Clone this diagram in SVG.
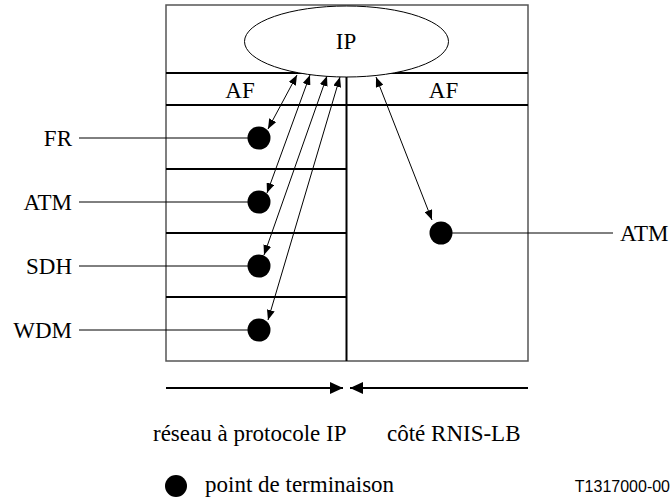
<svg xmlns="http://www.w3.org/2000/svg" width="672" height="504" viewBox="0 0 672 504">
  <style>
    .t { font-family: "Liberation Serif", "Times New Roman", serif; font-size: 23px; fill: #000; }
    .thin { stroke: #000; stroke-width: 1; fill: none; }
    .thick { stroke: #000; stroke-width: 2; fill: none; }
    .frame { stroke: #555; stroke-width: 1.5; fill: none; }
    .dot { fill: #000; }
    .link { stroke: #000; stroke-width: 1; fill: none; marker-start: url(#ah); marker-end: url(#ah); }
  </style>
  <defs>
    <marker id="ah" viewBox="0 0 10 8" refX="10" refY="4" markerWidth="10" markerHeight="8" markerUnits="userSpaceOnUse" orient="auto-start-reverse">
      <path d="M0,0 L10,4 L0,8 Z" fill="#000"/>
    </marker>
    <marker id="bh" viewBox="0 0 13 12" refX="13" refY="6" markerWidth="13" markerHeight="12" markerUnits="userSpaceOnUse" orient="auto">
      <path d="M0,0 L13,6 L0,12 Z" fill="#000"/>
    </marker>
  </defs>

  <!-- frame and layer divisions -->
  <g id="frame">
    <rect class="frame" x="166" y="5" width="362" height="356"/>
    <line class="thick" x1="166" y1="73" x2="528" y2="73"/>
    <line class="thick" x1="166" y1="105" x2="528" y2="105"/>
    <line class="thick" x1="166" y1="169" x2="346.5" y2="169"/>
    <line class="thick" x1="166" y1="233" x2="346.5" y2="233"/>
    <line class="thick" x1="166" y1="297" x2="346.5" y2="297"/>
    <line class="thick" x1="346.5" y1="73" x2="346.5" y2="361"/>
  </g>

  <g id="ip">
    <ellipse cx="346.5" cy="41.5" rx="102" ry="35.5" fill="#fff" stroke="#000" stroke-width="1"/>
    <text class="t" x="346" y="49" text-anchor="middle">IP</text>
  </g>

  <g id="af-left"><text class="t" x="240" y="98" text-anchor="middle">AF</text></g>
  <g id="af-right"><text class="t" x="443.5" y="98" text-anchor="middle">AF</text></g>

  <!-- termination points with their interface labels -->
  <g id="fr">
    <text class="t" x="72" y="145.5" text-anchor="end">FR</text>
    <line class="thin" x1="79" y1="138" x2="259" y2="138"/>
    <circle class="dot" cx="259" cy="138" r="11.5"/>
  </g>
  <g id="atm-left">
    <text class="t" x="72" y="209.5" text-anchor="end">ATM</text>
    <line class="thin" x1="79" y1="202" x2="259" y2="202"/>
    <circle class="dot" cx="259" cy="202" r="11.5"/>
  </g>
  <g id="sdh">
    <text class="t" x="72" y="273.5" text-anchor="end">SDH</text>
    <line class="thin" x1="79" y1="266" x2="259" y2="266"/>
    <circle class="dot" cx="259" cy="266" r="11.5"/>
  </g>
  <g id="wdm">
    <text class="t" x="72" y="337.5" text-anchor="end">WDM</text>
    <line class="thin" x1="79" y1="330" x2="259" y2="330"/>
    <circle class="dot" cx="259" cy="330" r="11.5"/>
  </g>
  <g id="atm-right">
    <line class="thin" x1="441" y1="233" x2="613" y2="233"/>
    <circle class="dot" cx="441" cy="233" r="11.5"/>
    <text class="t" x="620" y="240.5">ATM</text>
  </g>

  <!-- links between IP and the termination points -->
  <g id="connectors">
    <line class="link" x1="297" y1="75" x2="268" y2="129"/>
    <line class="link" x1="310" y1="75" x2="267" y2="193"/>
    <line class="link" x1="327" y1="76" x2="264" y2="255"/>
    <line class="link" x1="340" y1="77" x2="268" y2="320"/>
    <line class="link" x1="376" y1="77" x2="432" y2="220"/>
    <line class="thick" x1="166" y1="388" x2="343" y2="388" marker-end="url(#bh)"/>
    <line class="thick" x1="528" y1="388" x2="350" y2="388" marker-end="url(#bh)"/>
  </g>

  <g id="captions">
    <text class="t" x="153" y="441">réseau à protocole IP</text>
    <text class="t" x="387" y="441">côté RNIS-LB</text>
  </g>

  <g id="legend">
    <circle class="dot" cx="176" cy="486" r="11"/>
    <text class="t" x="205" y="492">point de terminaison</text>
    <text x="670" y="492" text-anchor="end" font-family="Liberation Sans, Arial, sans-serif" font-size="16">T1317000-00</text>
  </g>
</svg>
